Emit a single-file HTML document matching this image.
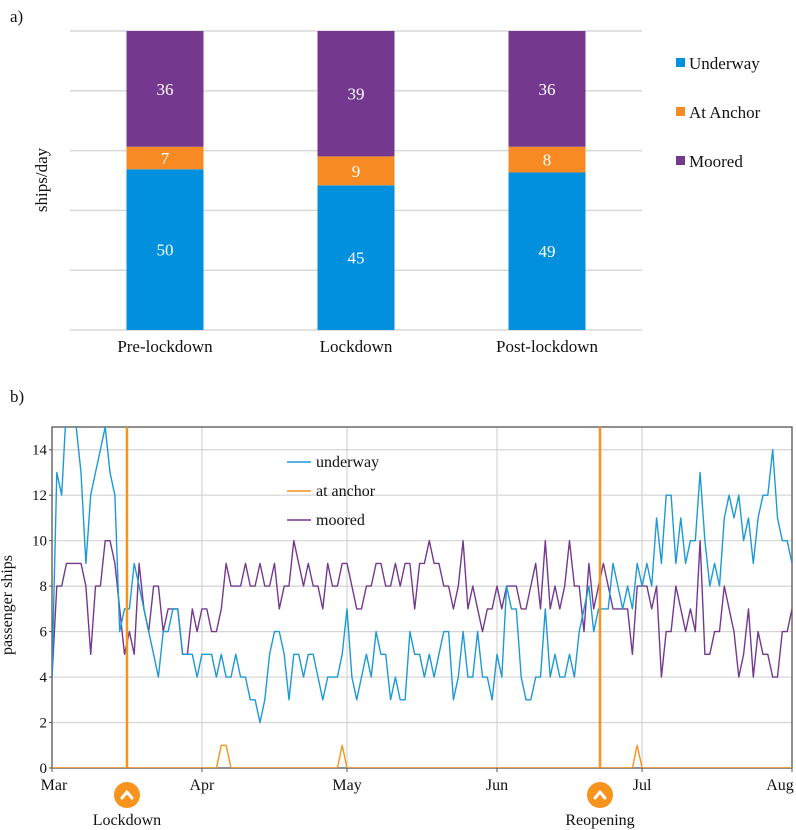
<!DOCTYPE html>
<html><head><meta charset="utf-8">
<style>
html,body{margin:0;padding:0;background:#fff;}
svg{display:block;font-family:"Liberation Serif",serif;}
</style></head>
<body>
<svg id="root" width="796" height="830" viewBox="0 0 796 830" xmlns="http://www.w3.org/2000/svg">
<text x="10" y="22" font-size="17" fill="#111">a)</text>
<g id="chartA"></g>
<text x="10" y="402" font-size="17" fill="#111">b)</text>
<g id="chartB"></g>
</svg>
<script>
// ---- Chart A data ----
const barCategories = ["Pre-lockdown","Lockdown","Post-lockdown"];
const underwayBar = [50,45,49];
const anchorBar = [7,9,8];
const mooredBar = [36,39,36];

// ---- Chart B data ----
const months = ["Mar","Apr","May","Jun","Jul","Aug"];
const monthStartDay = [0,31,61,92,122,153];
const yTicks = [0,2,4,6,8,10,12,14];
const underway = [4,13,12,16,16,15,13,9,12,13,14,15,13,12,6,7,7,9,8,7,6,5,4,6,6,7,7,5,5,5,4,5,5,5,4,5,4,4,5,4,4,3,3,2,3,5,6,6,5,3,5,5,
4,5,5,4,3,4,4,4,5,7,4,3,4,5,4,6,5,5,3,4,3,3,6,5,5,4,5,4,5,6,6,3,4,6,4,4,6,4,4,3,5,4,8,7,7,4,3,
3,4,4,7,4,5,4,4,5,4,6,7,8,6,7,7,7,9,8,7,8,7,9,8,9,8,11,9,12,12,9,11,9,10,10,13,10,8,9,8,11,12,11,12,10,11,9,11,12,12,14,11,10,10,9];
const moored = [4,8,8,9,9,9,9,8,5,8,8,10,10,9,7,5,6,5,9,7,6,8,8,6,7,7,7,5,5,7,6,7,7,6,6,7,9,8,8,8,9,8,8,9,8,8,9,7,8,8,10,9,
8,9,8,8,7,9,8,8,9,9,8,7,7,8,8,9,9,8,8,9,8,9,9,7,9,9,10,9,9,8,8,7,8,10,7,8,7,6,7,7,8,7,8,8,8,7,7,
8,9,7,10,7,8,7,8,10,8,8,6,9,7,8,9,8,7,7,7,7,5,8,8,8,7,8,4,6,6,8,7,6,7,6,10,5,5,6,6,8,7,6,4,5,7,4,6,5,5,4,4,6,6,7];
const anchorSpikeDays = [35,36,60,121];
const anchorSpikeVals = [1,1,1,1];
const eventDays = [15.5,113.3];
const eventLabels = ["Lockdown","Reopening"];

const NS="http://www.w3.org/2000/svg";
function mk(tag,attrs,parent){const e=document.createElementNS(NS,tag);for(const k in attrs)e.setAttribute(k,attrs[k]);parent.appendChild(e);return e;}

// ---- Chart A ----
(function(){
  const g=document.getElementById('chartA');
  const top=31,bot=330,left=70,right=642;
  const yA=p=>bot-(bot-top)*p/100;
  for(let i=0;i<=5;i++){
    const l=mk('line',{x1:left,x2:right,y1:yA(i*20),y2:yA(i*20),stroke:'#d9d9d9','stroke-width':1.5},g);
    
    
  }
  const centers=[165,356,547], bw=77;
  const colors=['#0090dd','#f78a23','#74398f'];
  const series=[underwayBar,anchorBar,mooredBar];
  const names=['underway','anchor','moored'];
  barCategories.forEach((c,i)=>{
    const tot=underwayBar[i]+anchorBar[i]+mooredBar[i];
    let cum=0;
    series.forEach((s,j)=>{
      const p0=cum/tot*100, p1=(cum+s[i])/tot*100; cum+=s[i];
      const r=mk('rect',{x:centers[i]-bw/2,y:yA(p1),width:bw,height:yA(p0)-yA(p1),fill:colors[j]},g);
      
      
      const t=mk('text',{x:centers[i],y:(yA(p0)+yA(p1))/2+6,'text-anchor':'middle','font-size':17,fill:'#fff'},g);
      t.textContent=s[i];
      
      
    });
    const t=mk('text',{x:centers[i],y:352,'text-anchor':'middle','font-size':17,fill:'#111'},g);
    t.textContent=c;
    
    
  });
  const yt=mk('text',{x:0,y:0,'font-size':17,fill:'#111','text-anchor':'middle',transform:'translate(47,180) rotate(-90)'},g);
  yt.textContent='ships/day';
  
  
  const legNames=['Underway','At Anchor','Moored'];
  legNames.forEach((n,j)=>{
    const yy=63+j*49;
    const r=mk('rect',{x:676,y:yy-5,width:9,height:9,fill:colors[j]},g);
    
    
    const t=mk('text',{x:689,y:yy+6,'font-size':17,fill:'#111'},g);
    t.textContent=n;
    
    
  });
})();

// ---- Chart B ----
(function(){
  const g=document.getElementById('chartB');
  const L=52,R=792,T=427,B=768,ymax=15,days=153;
  const xB=d=>L+(R-L)*d/days;
  const yB=v=>B-(B-T)*v/ymax;
  const defs=mk('defs',{},g);
  const cp=mk('clipPath',{id:'clipB'},defs);
  mk('rect',{x:L,y:T,width:R-L,height:B-T},cp);
  yTicks.forEach(v=>{
    if(v>0){const l=mk('line',{x1:L,x2:R,y1:yB(v),y2:yB(v),stroke:'#d4d4d4','stroke-width':1.2},g);
    
    }
    mk('line',{x1:L-3,x2:L,y1:yB(v),y2:yB(v),stroke:'#555','stroke-width':1},g);
    const t=mk('text',{x:L-5,y:yB(v)+5,'text-anchor':'end','font-size':15,fill:'#111'},g);
    t.textContent=v;
    
    
  });
  months.forEach((m,i)=>{
    const x=xB(monthStartDay[i]);
    if(i>0&&i<months.length-1){const l=mk('line',{x1:x,x2:x,y1:T,y2:B,stroke:'#d4d4d4','stroke-width':1.2},g);
    
    }
    mk('line',{x1:x,x2:x,y1:B,y2:B+4,stroke:'#555','stroke-width':1},g);
    const t=mk('text',{x:(i==months.length-1?x-12:(i==0?x+2:x)),y:B+22,'text-anchor':'middle','font-size':16,fill:'#111'},g);
    t.textContent=m;
    
    
  });
  const fr=mk('rect',{x:L,y:T,width:R-L,height:B-T,fill:'none',stroke:'#555','stroke-width':1.3},g);
  
  
  function line(vals,color,name,dayIdx){
    const pts=vals.map((v,i)=>xB(dayIdx?dayIdx[i]:i).toFixed(1)+','+yB(v).toFixed(1)).join(' ');
    const p=mk('polyline',{points:pts,fill:'none',stroke:color,'stroke-width':1.4,'stroke-linejoin':'round','clip-path':'url(#clipB)'},g);
    
    
  }
  // anchor series built from spikes
  const anchor=[];for(let d=0;d<=days;d++)anchor.push(0);
  anchorSpikeDays.forEach((d,i)=>anchor[d]=anchorSpikeVals[i]);
  line(anchor,'#f7941d','line-at-anchor');
  line(moored,'#74398f','line-moored');
  line(underway,'#1d9ad6','line-underway');
  eventDays.forEach((d,i)=>{
    const x=xB(d);
    const l=mk('line',{x1:x,x2:x,y1:T,y2:B,stroke:'#f7941d','stroke-width':2.5},g);
    
    
    const c=mk('circle',{cx:x,cy:795,r:13,fill:'#f7941d'},g);
    
    
    mk('polyline',{points:`${x-5},${798} ${x},${792} ${x+5},${798}`,fill:'none',stroke:'#fff','stroke-width':3,'stroke-linecap':'round','stroke-linejoin':'round'},g);
    const t=mk('text',{x:x,y:825,'text-anchor':'middle','font-size':16,fill:'#111'},g);
    t.textContent=eventLabels[i];
    
    
  });
  const yt=mk('text',{x:0,y:0,'font-size':16,fill:'#111','text-anchor':'middle',transform:'translate(12,605) rotate(-90)'},g);
  yt.textContent='passenger ships';
  
  
  const legN=['underway','at anchor','moored'],legC=['#1d9ad6','#f7941d','#74398f'];
  legN.forEach((n,j)=>{
    const yy=462+j*29;
    mk('line',{x1:287,x2:311,y1:yy,y2:yy,stroke:legC[j],'stroke-width':1.5},g);
    const t=mk('text',{x:316,y:yy+5,'font-size':16,fill:'#111'},g);
    t.textContent=n;
    
    
  });
})();
</script>
</body></html>
